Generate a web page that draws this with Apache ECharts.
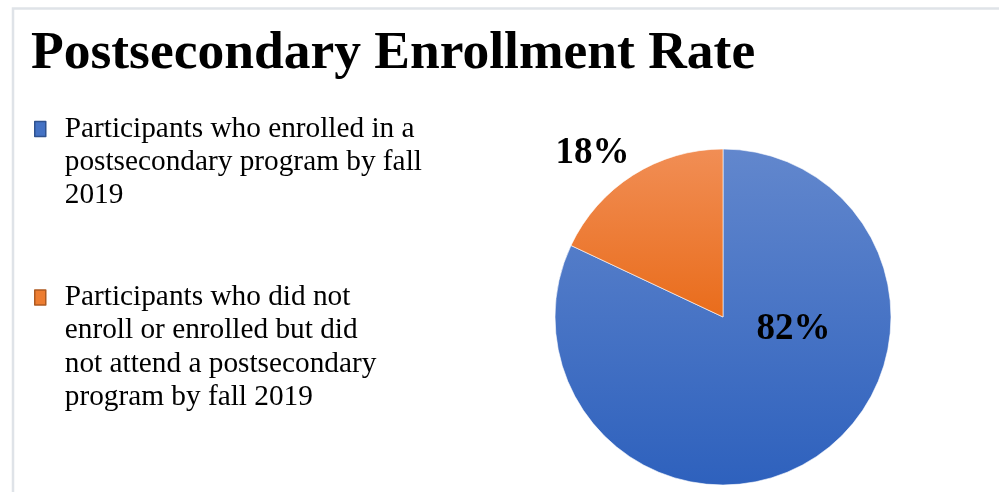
<!DOCTYPE html>
<html>
<head>
<meta charset="utf-8">
<title>Postsecondary Enrollment Rate</title>
<script src="https://cdn.jsdelivr.net/npm/echarts@6/dist/echarts.min.js"></script>
<style>
  html, body { margin: 0; padding: 0; background: #ffffff; }
  #chart { width: 999px; height: 492px; }
</style>
</head>
<body>
<div id="chart"></div>
<script>
// Enrollment outcome shares (percent)
const categories = [
  'Participants who enrolled in a\npostsecondary program by fall\n2019',
  'Participants who did not\nenroll or enrolled but did\nnot attend a postsecondary\nprogram by fall 2019'
];
const shares = [82, 18];
const titleText = 'Postsecondary Enrollment Rate';

const SERIF = '"Liberation Serif", "Times New Roman", Times, serif';
const LEGEND_LINE = 33.2;
const ICON_H = 15;

// Vertical gradients per slice, lighter at the top
const sliceColors = [
  new echarts.graphic.LinearGradient(0, 0, 0, 1, [
    { offset: 0, color: '#6287cd' },
    { offset: 1, color: '#2e61bd' }
  ]),
  new echarts.graphic.LinearGradient(0, 0, 0, 1, [
    { offset: 0, color: '#f18e55' },
    { offset: 1, color: '#e96c1b' }
  ])
];
const iconColors = ['#4472c4', '#ed7d31'];
const iconBorders = ['#2f528f', '#ae5a21'];

// Label nudges from the default inside position of each slice
const labelShift = [[24, -61], [-84, -90]];

// One legend block per entry; blank lines above the text keep the swatch
// level with the first text line (legend text is centred on its swatch)
const legendFirstLineY = [129, 297.5];
const legends = categories.map(function (name, i) {
  const lines = name.split('\n').length;
  const blockH = (2 * lines - 1) * LEGEND_LINE;
  return {
    data: [name],
    orient: 'vertical',
    left: 34,
    top: legendFirstLineY[i] - blockH / 2,
    padding: 0,
    itemWidth: 11,
    itemHeight: ICON_H,
    icon: 'rect',
    selectedMode: false,
    formatter: function (n) {
      return new Array(lines).join('\n') + n;
    },
    itemStyle: { color: iconColors[i], borderColor: iconBorders[i], borderWidth: 1.5 },
    textStyle: {
      fontFamily: SERIF,
      fontSize: 29.3,
      color: '#000000',
      lineHeight: LEGEND_LINE,
      padding: [0, 0, 0, 14]
    }
  };
});

const chart = echarts.init(document.getElementById('chart'), null, { renderer: 'canvas' });
chart.setOption({
  backgroundColor: '#ffffff',
  animation: false,
  title: {
    text: titleText,
    left: 31,
    top: 27,
    padding: 0,
    textStyle: { fontFamily: SERIF, fontWeight: 'bold', fontSize: 53.5, color: '#000000' }
  },
  graphic: [{
    type: 'polyline',
    shape: { points: [[13, 493], [13, 8.5], [1000, 8.5]] },
    style: { stroke: '#dfe3e8', lineWidth: 2.5, fill: null },
    silent: true
  }],
  legend: legends,
  series: [{
    type: 'pie',
    center: [723, 317],
    radius: 168,
    startAngle: 90,
    clockwise: true,
    silent: true,
    data: categories.map(function (name, i) {
      return { name: name, value: shares[i], itemStyle: { color: sliceColors[i] } };
    }),
    itemStyle: { borderColor: '#ffffff', borderWidth: 0.6 },
    label: {
      show: true,
      position: 'inside',
      formatter: '{c}%',
      fontFamily: SERIF,
      fontWeight: 'bold',
      fontSize: 37,
      color: '#000000'
    },
    labelLine: { show: false },
    labelLayout: function (params) {
      const s = labelShift[params.dataIndex];
      return { dx: s[0], dy: s[1] };
    }
  }]
});
</script>
</body>
</html>
